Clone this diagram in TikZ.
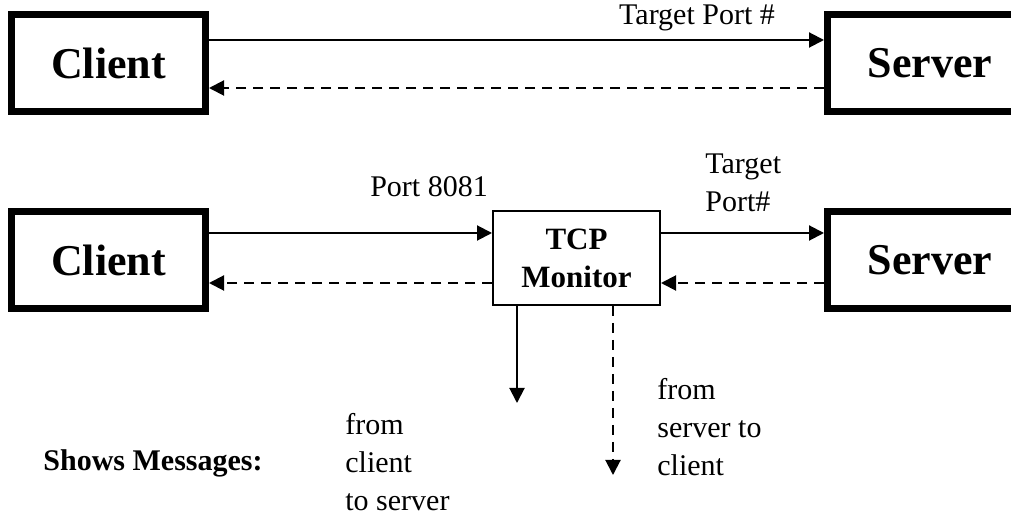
\documentclass[tikz,border=0pt]{standalone}
\usepackage{fontspec}
\setmainfont{Liberation Serif}
\usetikzlibrary{arrows.meta}

\begin{document}
\begin{tikzpicture}[
        x=0.5pt, y=-0.5pt,
        host/.style={
        draw,
        line width=3.5pt,
        minimum height=48.5pt,
        inner sep=0pt,
        font=\fontsize{22}{26}\selectfont\bfseries
      },
        monitor/.style={
        draw,
        line width=1pt,
        minimum width=83.5pt,
        minimum height=47pt,
        align=center,
        font=\fontsize{15.5}{19}\selectfont\bfseries
      },
      msg/.style={-{Triangle[length=7.5pt,width=7.5pt]}, line width=1pt},
      reply/.style={msg, dash pattern=on 5pt off 3.5pt},
      lbl/.style={inner sep=0pt, align=left, font=\fontsize{15}{19}\selectfont}
    ]

    \useasboundingbox (0,0) rectangle (1011,517);

    \node[host, minimum width=97pt] (client1) at (108.5, 63) {Client};
    \node[host, minimum width=102.5pt] (server1) at (930, 63) {Server};

    \node[host, minimum width=97pt] (client2) at (108.5, 260) {Client};
    \node[monitor] (mon) at (576.5, 258) {TCP\\Monitor};
    \node[host, minimum width=102.5pt] (server2) at (930, 260) {Server};

    \coordinate (c2s) at (517, 403);
    \coordinate (s2c) at (613, 475);

    \draw[msg] ([yshift=11.5pt]client1.east) -- ([yshift=11.5pt]client1.east -| server1.west);
    \draw[reply] ([yshift=-12.5pt]client1.east -| server1.west) -- ([yshift=-12.5pt]client1.east);

    \draw[msg] ([yshift=13.5pt]client2.east) -- ([yshift=13.5pt]client2.east -| mon.west);
    \draw[msg] ([yshift=13.5pt]client2.east -| mon.east) -- ([yshift=13.5pt]client2.east -| server2.west);
    \draw[reply] ([yshift=-11.5pt]client2.east -| server2.west) -- ([yshift=-11.5pt]client2.east -| mon.east);
    \draw[reply] ([yshift=-11.5pt]client2.east -| mon.west) -- ([yshift=-11.5pt]client2.east);

    \draw[msg] (c2s |- mon.south) -- (c2s);
    \draw[reply] (s2c |- mon.south) -- (s2c);

    \node[lbl, anchor=base] (tport1) at (697, 25) {Target Port \#};
    \node[lbl, anchor=base] (port) at (429, 197) {Port 8081};
    \node[lbl, anchor=north west] (tport2) at (705, 153) {Target\\Port\#};

    \node[lbl, anchor=base east, font=\fontsize{15}{19}\selectfont\bfseries] (shows) at (263, 471) {Shows Messages:};
    \node[lbl, anchor=north west] (fromc) at (345, 413) {from\\client\\to server};
    \node[lbl, anchor=north west] (froms) at (657, 377.5) {from\\server to\\client};

  \end{tikzpicture}
\end{document}
